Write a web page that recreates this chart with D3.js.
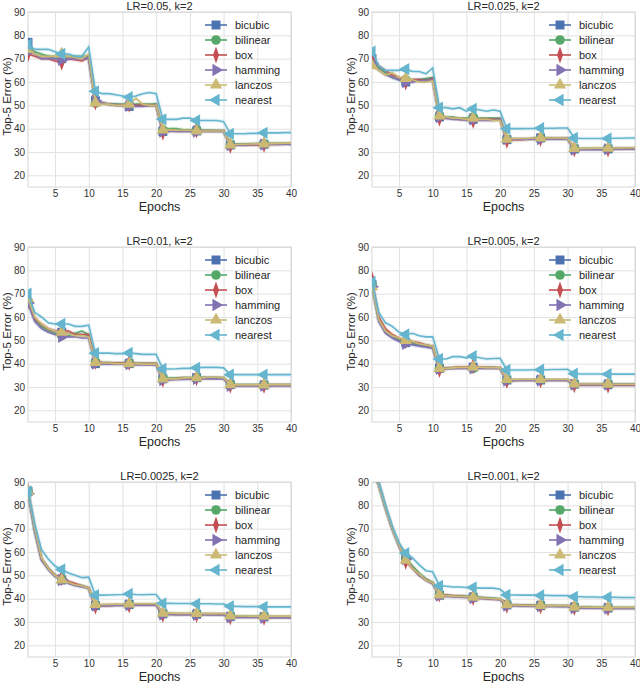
<!DOCTYPE html>
<html>
<head>
<meta charset="utf-8">
<script src="https://cdn.jsdelivr.net/npm/d3@7"></script>
<style>
	body { margin: 0; background: #fff; }
	text { font-family: "Liberation Sans", Arial, sans-serif; }
</style>
</head>
<body>
<div id="chart"></div>
<script>
// ---- data ----
const epochs = d3.range(1, 41);
const markEpochs = [1, 6, 11, 16, 21, 26, 31, 36];
const xTicks = [5, 10, 15, 20, 25, 30, 35, 40];
const yTicks = [20, 30, 40, 50, 60, 70, 80, 90];
const methods = ["bicubic", "bilinear", "box", "hamming", "lanczos", "nearest"];
const titles = ["LR=0.05, k=2", "LR=0.025, k=2", "LR=0.01, k=2", "LR=0.005, k=2", "LR=0.0025, k=2", "LR=0.001, k=2"];

// LR=0.05
const lr05Bicubic = [77,72,71,71,70,70,70,70.5,70,71, 52,51,50.5,50.5,50,49.5,50,50,50,50.5, 38.8,39,39,39,39,39,39,39,39,39, 33,33,33,33.2,33.2,33.3,33.3,33.3,33.4,33.4];
const lr05Bilinear = [74,73,72,71,71,70,71,71,71,71, 51,51,50.5,50.5,50.5,50,50.5,50.5,50.5,50.5, 39.5,40,40,39.5,39.5,39.5,39.3,39.3,39.2,39.2, 33.3,33.4,33.5,33.5,33.6,33.6,33.7,33.7,33.8,33.8];
const lr05Box = [72,71,70,70,69,68.5,70,69.5,69,70.5, 51.5,51,50.5,50,50,50.5,50,50,50,50, 38.5,39,39,39,39,39.5,39,39,39,39, 32.8,33,33,33,33,33.2,33.2,33.2,33.3,33.3];
const lr05Hamming = [73,72,70,70,70,69.5,70,70,70,70, 52,51,50.5,50,50,49.8,49.5,49.5,49.8,50, 38.8,39,38.8,38.8,38.8,38.8,38.8,38.8,38.8,38.8, 33,33,33,33.2,33.2,33.2,33.3,33.3,33.3,33.3];
const lr05Lanczos = [74,72,71,71,71,72,71,70.5,70,72, 51,50.5,50.5,50,50,50.5,53,50.5,50,50, 39.5,39.5,39.3,39.3,39.3,39,39,39,39,39, 33,33.2,33.3,33.4,33.5,33.5,33.6,33.7,33.8,33.8];
const lr05Nearest = [76,74,74,74,73,72,72,71,71,75, 56,55,55,54.5,54,53.5,54,55,55.5,55, 44,44,44,44.5,44.5,43.5,43.5,43.5,43.5,43, 37.8,37.8,37.8,38,38,38.2,38.2,38.2,38.3,38.3];

// LR=0.025
const lr025Bicubic = [70,66,64,62,61,60,60,61,61,61.5, 45,44.5,44.5,44,44,44,44,44,44,44, 35.3,35.5,35.5,35.5,35.8,36,35.8,35.8,35.8,35.8, 31.3,31.3,31.3,31.3,31.3,31.3,31.4,31.4,31.5,31.5];
const lr025Bilinear = [69,66,64,62,61,61,61,61,61.5,62, 45.5,45,45,44.5,44.5,45,44.5,44.5,44.5,44.5, 35.5,35.5,35.5,35.5,35.8,36,35.8,35.8,35.8,35.8, 31.5,31.5,31.5,31.5,31.5,31.5,31.6,31.6,31.6,31.6];
const lr025Box = [70.5,67,65,63,62,60,61,61,60.5,61.5, 44.5,44.5,44.5,44,44,43.5,44,44,44,44, 35,35.3,35.3,35.5,35.8,35.8,35.8,35.8,35.8,35.8, 31.3,31.3,31.3,31.3,31.3,31.3,31.3,31.4,31.4,31.4];
const lr025Hamming = [68,65,63,62,61,60,60,60.5,60.5,61, 45,44.5,44,44,43.5,44,43.5,43.5,43.5,44, 35.5,35.5,35.5,35.5,35.5,35.5,35.5,35.5,35.5,35.5, 31,31,31,31,31,31.2,31.2,31.2,31.3,31.3];
const lr025Lanczos = [67,65,63,64,62,61.5,61,60,60,60.5, 45.5,45,44.5,44.5,44,44.5,44,44,43.5,43.5, 35.5,35.8,35.8,35.8,36,36,36,36,36,35.8, 31.5,31.5,31.5,31.6,31.6,31.6,31.7,31.7,31.8,31.8];
const lr025Nearest = [73,67,65,65,65,65.5,64.5,64.5,63.5,66, 49,49,48.5,49,47.5,48.5,48,47.5,48,47.5, 40,40,40,40.1,40.1,40.2,40.2,40.2,40.3,40.3, 36,35.8,35.8,35.8,35.8,35.8,35.9,35.9,36,36];

// LR=0.01
const lr01Bicubic = [66,59,56,54.5,54,53.5,53,52.5,52.5,52, 40,40,40,40,40,40,39.8,39.8,39.8,39.5, 33.5,33.5,33.5,33.8,33.8,34,34,34,34,33.8, 31,30.8,30.8,30.8,30.8,30.8,30.8,30.8,30.8,30.8];
const lr01Bilinear = [66,59,56,54,53,52,52,53,54,52.5, 41,40.5,40.5,40.3,40.3,40.3,40.2,40.2,40.2,40.2, 33.8,33.8,33.8,34,34,34,34,34,34,34, 31.2,31,31,31,31,31,31,31,31,31];
const lr01Box = [67,59.5,57,55,54,54,54,52.5,52.5,52.5, 41,40.5,40.3,40.3,40.3,40.5,40.2,40,40,40, 33.3,33.3,33.5,33.8,33.8,34,33.8,33.8,33.8,33.8, 30.8,30.7,30.7,30.7,30.7,30.7,30.7,30.7,30.7,30.7];
const lr01Hamming = [66,58,55,53.5,52.5,51.5,51.5,51.5,51,51, 40,39.8,39.8,39.8,39.8,39.8,39.5,39.5,39.5,39.5, 33,33,33.2,33.2,33.3,33.5,33.5,33.5,33.5,33.5, 30.5,30.5,30.5,30.5,30.5,30.5,30.5,30.6,30.6,30.6];
const lr01Lanczos = [68,60,57,55,54,53.5,53,52,52,51.5, 40.5,40.3,40.3,40,40,40,40,39.8,39.8,39.8, 33.5,33.5,33.5,33.8,34,34,34,34.2,34.2,34, 31,30.9,30.9,30.9,30.9,30.9,31,31,31,31];
const lr01Nearest = [70,62,60,57.5,57,57,57,56,56,56.5, 44.5,44.5,44.5,44.3,44.3,44.6,44.3,44,44,44, 37.7,37.7,37.8,38,38,38.2,38.4,38.4,38.4,38.2, 35.3,35.3,35.3,35.3,35.3,35.3,35.3,35.3,35.3,35.3];

// LR=0.005
const lr005Bicubic = [74,59,54,51.5,50,49,48.5,48,47.5,47, 38,38,38,38.3,38.3,38.5,38.3,38.3,38.3,38, 33,33,33,33,33,33,33,33,33,33, 31.2,31.1,31.1,31.1,31.1,31,31,31,31,31];
const lr005Bilinear = [74,59,54,52,50.5,49.5,49,48.5,48,47.5, 38,38,38.2,38.3,38.3,38,38.3,38.3,38.3,38.2, 33,33,33,33,33,33,33,33,33,33, 31.3,31.2,31.2,31.2,31.2,31.2,31.2,31.2,31.2,31.2];
const lr005Box = [76,60,55,52.5,51,50,49.5,49,48,47.5, 37.5,38,38.3,38.5,38.5,39,38.5,38.3,38.3,38.3, 32.8,32.8,33,33,33,33,33,33,33,33, 31,30.9,30.9,30.9,30.9,30.8,30.8,30.8,30.8,30.8];
const lr005Hamming = [73,58,53,51,49.5,48.5,48,47.5,47,46.5, 37.8,37.8,38,38,38,38,38,38,38,38, 32.8,32.8,32.8,32.8,32.8,32.8,32.8,32.8,32.8,32.8, 31,31,31,31,31,31,31,31,31,31];
const lr005Lanczos = [73,59,54,52,51,50,49.5,48.5,48,47.5, 38,38,38.2,38.4,38.4,38.5,38.5,38.3,38.3,38.2, 33.2,33.2,33.2,33.2,33.2,33.2,33.2,33.2,33.2,33.2, 31.3,31.3,31.3,31.3,31.3,31.2,31.2,31.2,31.2,31.2];
const lr005Nearest = [75,62,57.5,56,53.5,52.5,53,52,51.5,51.5, 42,42,43,43,42.5,43.2,42.5,42,42.2,42.3, 37.3,37.3,37.3,37.3,37.4,37.4,37.4,37.5,37.5,37.6, 35.7,35.6,35.6,35.6,35.6,35.5,35.5,35.5,35.5,35.5];

// LR=0.0025
const lr0025Bicubic = [86,69,57,53,50,48,47,46,45.5,44.5, 37,37.2,37.2,37.3,37.3,37.5,37.5,37.5,37.5,37.5, 33.5,33.5,33.4,33.4,33.4,33.3,33.3,33.3,33.3,33.3, 32.3,32.2,32.2,32.2,32.2,32.2,32.1,32.1,32.1,32];
const lr0025Bilinear = [86,69,57,53,50,48.5,47,46,45.5,44.5, 37.2,37.3,37.3,37.4,37.4,37.5,37.6,37.6,37.6,37.6, 33.6,33.6,33.5,33.5,33.5,33.5,33.5,33.5,33.4,33.4, 32.5,32.4,32.4,32.4,32.4,32.3,32.3,32.3,32.3,32.3];
const lr0025Box = [86,70,57,53,50,49,47.5,46.5,45.5,44.5, 36.8,37,37,37.2,37.2,37.3,37.3,37.3,37.3,37.3, 33.3,33.3,33.2,33.2,33.2,33.2,33.2,33.2,33.2,33.2, 32.2,32.1,32.1,32.1,32.1,32,32,32,32,32];
const lr0025Hamming = [85,69,56.5,52.5,49.5,48,46.5,45.5,45,44.5, 37,37,37,37.1,37.1,37.2,37.2,37.2,37.2,37.2, 33.2,33.2,33.1,33.1,33.1,33.1,33.1,33,33,33, 32,31.9,31.9,31.9,31.9,31.8,31.8,31.8,31.8,31.8];
const lr0025Lanczos = [86,70,57.5,53,50,48,47,46,45.5,44.5, 37.5,37.5,37.5,37.6,37.6,37.7,37.8,37.8,37.8,37.8, 33.8,33.8,33.7,33.7,33.7,33.7,33.6,33.6,33.6,33.6, 32.6,32.6,32.6,32.5,32.5,32.5,32.5,32.5,32.5,32.5];
const lr0025Nearest = [86,72,61,57,54,52.5,51,50,49,49.2, 41.5,41.5,41.6,41.7,41.8,42,41.8,41.7,41.8,41.8, 38,38,37.9,37.9,37.9,37.8,37.8,37.8,37.7,37.7, 36.7,36.7,36.6,36.6,36.6,36.5,36.5,36.5,36.5,36.5];

// LR=0.001
const lr001Bicubic = [95,89,79,70,63,57,53.5,50.5,48,46.5, 41.5,41.2,41,41,40.8,40.6,40.4,40.2,40,39.8, 37.3,37.2,37.1,37,37,37,36.9,36.9,36.8,36.8, 36.3,36.2,36.2,36.1,36.1,36,36,36,36,36];
const lr001Bilinear = [95,89,79,70,63,57.5,54,51,48.5,47, 41.8,41.5,41.3,41.2,41,40.8,40.6,40.4,40.2,40, 37.5,37.4,37.3,37.2,37.2,37.2,37.1,37.1,37,37, 36.5,36.4,36.4,36.3,36.3,36.2,36.2,36.2,36.2,36.2];
const lr001Box = [95,89,79,70,63,56,53,50,48,46.5, 42,41.5,41.2,41,40.8,40.5,40.3,40,39.8,39.7, 37.2,37.1,37,37,37,36.9,36.9,36.8,36.8,36.8, 36.2,36.1,36.1,36,36,36,36,35.9,35.9,35.9];
const lr001Hamming = [95,89,79,70,62.5,57,53,50,48,46.5, 41.3,41,40.8,40.7,40.5,40.3,40.1,40,39.8,39.6, 37,37,36.9,36.8,36.8,36.8,36.7,36.7,36.6,36.6, 36,36,35.9,35.9,35.9,35.8,35.8,35.8,35.8,35.8];
const lr001Lanczos = [95,89,79,70,63,56.5,53,50.5,48,46.8, 41.6,41.3,41.1,41,40.8,40.6,40.4,40.2,40,39.9, 37.4,37.3,37.2,37.1,37.1,37.1,37,37,37,37, 36.4,36.4,36.3,36.3,36.3,36.2,36.2,36.2,36.2,36.2];
const lr001Nearest = [95,90,80,71,64,59.5,57.5,54.5,52,51.5, 45.5,45.3,45,45,44.8,44.8,44.5,44.5,44.5,44, 41.6,41.6,41.5,41.5,41.5,41.4,41.4,41.3,41.3,41.3, 40.8,40.8,40.7,40.7,40.6,40.6,40.6,40.5,40.5,40.5];

const panelSeries = [
	[lr05Bicubic, lr05Bilinear, lr05Box, lr05Hamming, lr05Lanczos, lr05Nearest],
	[lr025Bicubic, lr025Bilinear, lr025Box, lr025Hamming, lr025Lanczos, lr025Nearest],
	[lr01Bicubic, lr01Bilinear, lr01Box, lr01Hamming, lr01Lanczos, lr01Nearest],
	[lr005Bicubic, lr005Bilinear, lr005Box, lr005Hamming, lr005Lanczos, lr005Nearest],
	[lr0025Bicubic, lr0025Bilinear, lr0025Box, lr0025Hamming, lr0025Lanczos, lr0025Nearest],
	[lr001Bicubic, lr001Bilinear, lr001Box, lr001Hamming, lr001Lanczos, lr001Nearest]
];

// ---- layout ----
const colX = [28, 372];
const rowY = [12, 247, 482];
const pw = 263, ph = 175;

const color = d3.scaleOrdinal()
	.domain(methods)
	.range(["#4C72B0", "#55A868", "#C44E52", "#8172B2", "#CCB974", "#64B5CD"]);

// marker shape per method (matplotlib: s, o, d, >, ^, <)
const markerShape = {
	bicubic: { type: d3.symbolSquare, size: 80, rot: 0, sx: 1 },
	bilinear: { type: d3.symbolCircle, size: 72, rot: 0, sx: 1 },
	box: { type: d3.symbolDiamond, size: 85, rot: 0, sx: 0.6 },
	hamming: { type: d3.symbolTriangle, size: 66, rot: 90, sx: 1 },
	lanczos: { type: d3.symbolTriangle, size: 66, rot: 0, sx: 1 },
	nearest: { type: d3.symbolTriangle, size: 66, rot: -90, sx: 1 }
};

const svg = d3.select("#chart")
	.append("svg")
	.attr("width", 640)
	.attr("height", 683);

const x = d3.scaleLinear().domain([1, 40]).range([0, pw]);
const y = d3.scaleLinear().domain([15, 90]).range([ph, 0]);

function marker(g, m) {
	const s = markerShape[m];
	return g.append("path")
		.attr("d", d3.symbol().type(s.type).size(s.size)())
		.attr("fill", color(m));
}

titles.forEach((title, p) => {
	const left = colX[p % 2], top = rowY[Math.floor(p / 2)];
	const g = svg.append("g").attr("transform", `translate(${left},${top})`);

	g.append("clipPath").attr("id", "clip" + p)
		.append("rect").attr("width", pw).attr("height", ph);

	// grid + ticks
	g.append("g")
		.attr("class", "x-axis")
		.attr("transform", `translate(0,${ph})`)
		.call(d3.axisBottom(x).tickValues(xTicks).tickSize(-ph).tickPadding(3));
	g.append("g")
		.attr("class", "y-axis")
		.call(d3.axisLeft(y).tickValues(yTicks).tickSize(-pw).tickPadding(3));
	g.selectAll(".domain").remove();
	g.selectAll(".tick line").attr("stroke", "#e2e2e2").attr("stroke-width", 1);
	g.selectAll(".tick text")
		.attr("fill", "#333")
		.style("font-size", "10px")
		.style("font-family", "'Liberation Sans', Arial, sans-serif");

	// frame
	g.append("rect")
		.attr("width", pw).attr("height", ph)
		.attr("fill", "none")
		.attr("stroke", "#d6d6d6")
		.attr("stroke-width", 1);

	// series
	const plot = g.append("g").attr("clip-path", `url(#clip${p})`);
	const line = d3.line().x((d, i) => x(epochs[i])).y(d => y(d));

	panelSeries[p].forEach((vals, k) => {
		const m = methods[k];
		// faint spread of the individual runs
		plot.append("path")
			.datum(vals)
			.attr("d", line)
			.attr("fill", "none")
			.attr("stroke", color(m))
			.attr("stroke-width", 4)
			.attr("stroke-opacity", 0.15);
		plot.append("path")
			.datum(vals)
			.attr("d", line)
			.attr("fill", "none")
			.attr("stroke", color(m))
			.attr("stroke-width", 1.6);
		markEpochs.forEach(e => {
			const s = markerShape[m];
			marker(plot, m)
				.attr("transform", `translate(${x(e)},${y(vals[e - 1])}) rotate(${s.rot}) scale(${s.sx},1)`);
		});
	});

	// title + axis labels
	g.append("text")
		.attr("x", pw / 2).attr("y", -2)
		.attr("text-anchor", "middle")
		.attr("fill", "#262626")
		.style("font-size", "11px")
		.text(title);
	g.append("text")
		.attr("x", pw / 2).attr("y", ph + 24)
		.attr("text-anchor", "middle")
		.attr("fill", "#262626")
		.style("font-size", "12.5px")
		.text("Epochs");
	g.append("text")
		.attr("transform", `translate(-17,${ph / 2 - 3}) rotate(-90)`)
		.attr("text-anchor", "middle")
		.attr("fill", "#262626")
		.style("font-size", "11.5px")
		.text("Top-5 Error (%)");

	// legend
	const lg = g.append("g").attr("transform", "translate(177,13)");
	methods.forEach((m, i) => {
		const row = lg.append("g").attr("transform", `translate(0,${i * 15})`);
		row.append("line")
			.attr("x1", 0).attr("x2", 22)
			.attr("stroke", color(m)).attr("stroke-width", 1.6);
		const s = markerShape[m];
		marker(row, m).attr("transform", `translate(11,0) rotate(${s.rot}) scale(${s.sx},1)`);
		row.append("text")
			.attr("x", 30).attr("dy", "0.35em")
			.attr("fill", "#262626")
			.style("font-size", "11px")
			.text(m);
	});
});
</script>
</body>
</html>
